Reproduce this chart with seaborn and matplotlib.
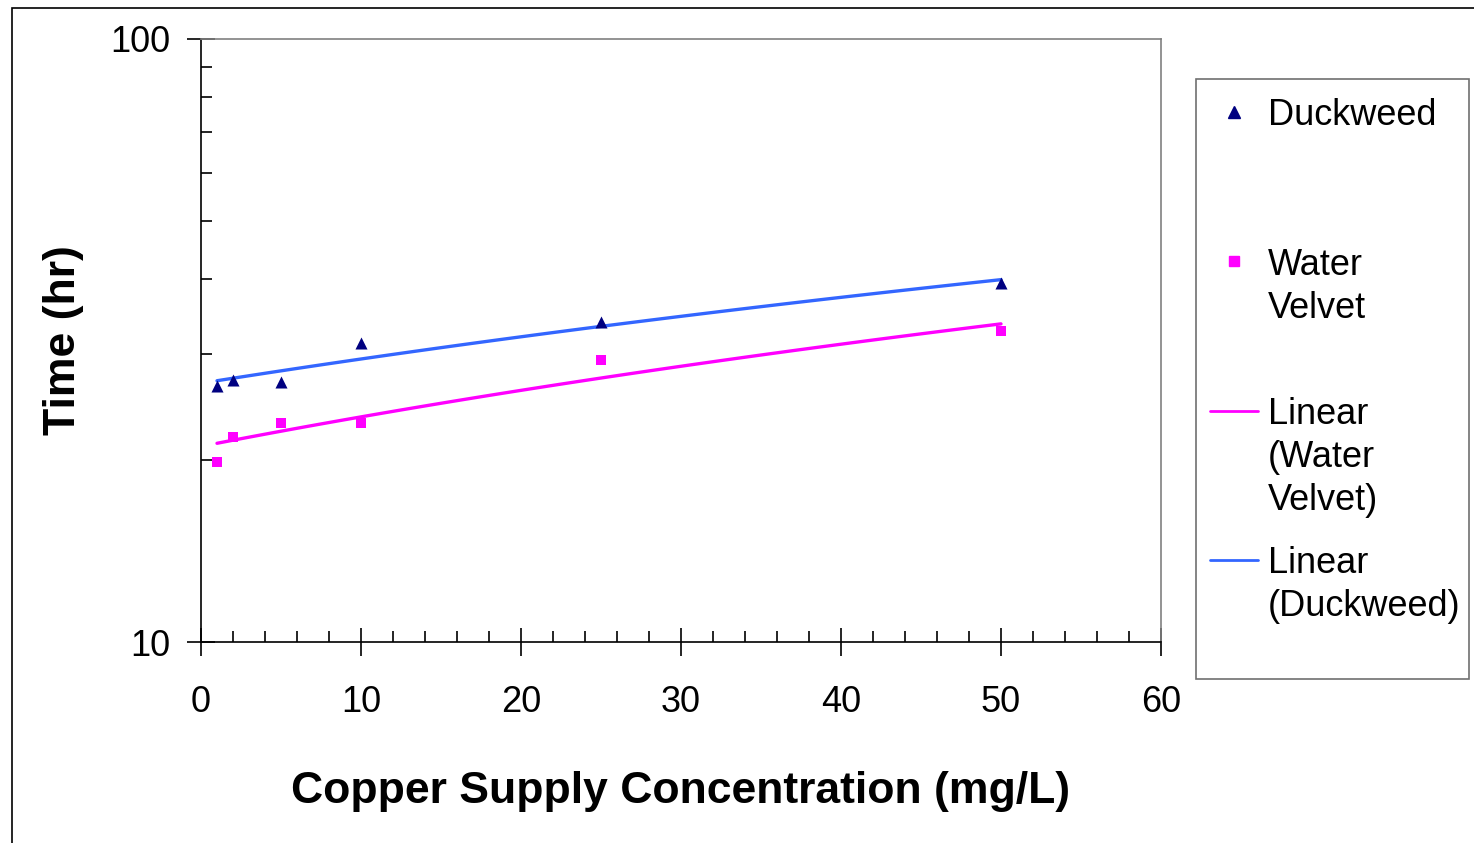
import numpy as np
import pandas as pd
import matplotlib
matplotlib.use("Agg")
import matplotlib.pyplot as plt
import matplotlib.ticker as mticker
from matplotlib.lines import Line2D
from matplotlib.patches import Rectangle
import seaborn as sns

# data
conc = [1, 2, 5, 10, 25, 50]
duckweed = [26.6, 27.2, 27.0, 31.3, 33.9, 39.4]
water_velvet = [19.9, 21.9, 23.05, 23.1, 29.3, 32.8]

df = pd.DataFrame({"conc": conc, "duckweed": duckweed, "water_velvet": water_velvet})

# colours
DUCK_MARK = "#000080"
WV_MARK = "#FF00FF"
DUCK_LINE = "#3366FF"
WV_LINE = "#FF00FF"

sns.set_style("white")
plt.rcParams["font.family"] = ["Liberation Sans", "DejaVu Sans"]
plt.rcParams["text.color"] = "black"
plt.rcParams["axes.labelcolor"] = "black"

W, H = 1474, 843
fig = plt.figure(figsize=(W / 100, H / 100), dpi=100)
ax = fig.add_axes([201 / W, 1 - 642 / H, 960 / W, 603 / H])

# points
sns.scatterplot(data=df, x="conc", y="duckweed", marker="^", s=75,
                color=DUCK_MARK, edgecolor=DUCK_MARK, linewidth=0, ax=ax, zorder=3)
sns.scatterplot(data=df, x="conc", y="water_velvet", marker="s", s=50,
                color=WV_MARK, edgecolor=WV_MARK, linewidth=0, ax=ax, zorder=3)

# linear trendlines (fitted in linear space, shown on log axis)
sns.regplot(data=df, x="conc", y="water_velvet", scatter=False, ci=None,
            line_kws={"color": WV_LINE, "lw": 2.4}, ax=ax)
sns.regplot(data=df, x="conc", y="duckweed", scatter=False, ci=None,
            line_kws={"color": DUCK_LINE, "lw": 2.4}, ax=ax)

ax.set_yscale("log")
ax.set_xlim(0, 60)
ax.set_ylim(10, 100)

ax.xaxis.set_major_locator(mticker.MultipleLocator(10))
ax.xaxis.set_minor_locator(mticker.MultipleLocator(2))
ax.yaxis.set_major_locator(mticker.FixedLocator([10, 100]))
ax.yaxis.set_minor_locator(mticker.LogLocator(base=10, subs=np.arange(2, 10)))
ax.yaxis.set_major_formatter(mticker.FuncFormatter(lambda v, _: f"{v:g}"))
ax.yaxis.set_minor_formatter(mticker.NullFormatter())

ax.tick_params(which="major", direction="inout", length=20, width=1.2,
               color="black", labelsize=26, labelcolor="black")
ax.tick_params(axis="x", which="major", pad=21)
ax.tick_params(axis="y", which="major", pad=12)
ax.tick_params(which="minor", direction="in", length=8, width=1.2, color="black")
ax.tick_params(axis="x", which="both", bottom=True, top=False)
ax.tick_params(axis="y", which="both", left=True, right=False)

for side in ["left", "bottom"]:
    ax.spines[side].set_color("black")
    ax.spines[side].set_linewidth(1.2)
for side in ["top", "right"]:
    ax.spines[side].set_color("#808080")
    ax.spines[side].set_linewidth(1.2)

ax.set_xlabel("Copper Supply Concentration (mg/L)", fontsize=32,
              fontweight="bold", color="black")
ax.set_ylabel("Time (hr)", fontsize=32, fontweight="bold", color="black")
ax.xaxis.set_label_coords(0.5, (642 - 771) / 603)
ax.yaxis.set_label_coords((84 - 201) / 960, 0.5)


# legend drawn by hand so each entry sits in an even slot like the original
def fx(px):
    return px / W


def fy(py):
    return 1 - py / H


fig.add_artist(Rectangle((fx(1196), fy(679)), fx(1469) - fx(1196), fy(79) - fy(679),
                         transform=fig.transFigure, fill=False, edgecolor="#707070", lw=1.2))

# (kind, marker, colour, size, label, cap top of first line, handle y)
legend_items = [
    ("marker", "^", DUCK_MARK, 9, "Duckweed", 98, 112),
    ("marker", "s", WV_MARK, 7, "Water\nVelvet", 248, 261),
    ("line", None, WV_LINE, 0, "Linear\n(Water\nVelvet)", 397, 411),
    ("line", None, DUCK_LINE, 0, "Linear\n(Duckweed)", 546, 560),
]
for kind, mk, col, ms, label, top, yc in legend_items:
    if kind == "marker":
        fig.add_artist(Line2D([fx(1234)], [fy(yc)], marker=mk, ms=ms, color=col,
                              mec=col, lw=0, transform=fig.transFigure))
    else:
        fig.add_artist(Line2D([fx(1210), fx(1258)], [fy(yc), fy(yc)], color=col,
                              lw=2.0, transform=fig.transFigure))
    fig.text(fx(1268), fy(top), label, fontsize=26, va="top", ha="left",
             linespacing=1.3, color="black")

# outer chart frame
fig.add_artist(Rectangle((fx(12), fy(900)), fx(1600) - fx(12), fy(8) - fy(900),
                         transform=fig.transFigure, fill=False, edgecolor="black", lw=1.2))

fig.savefig("out.png", dpi=100, facecolor="white")
